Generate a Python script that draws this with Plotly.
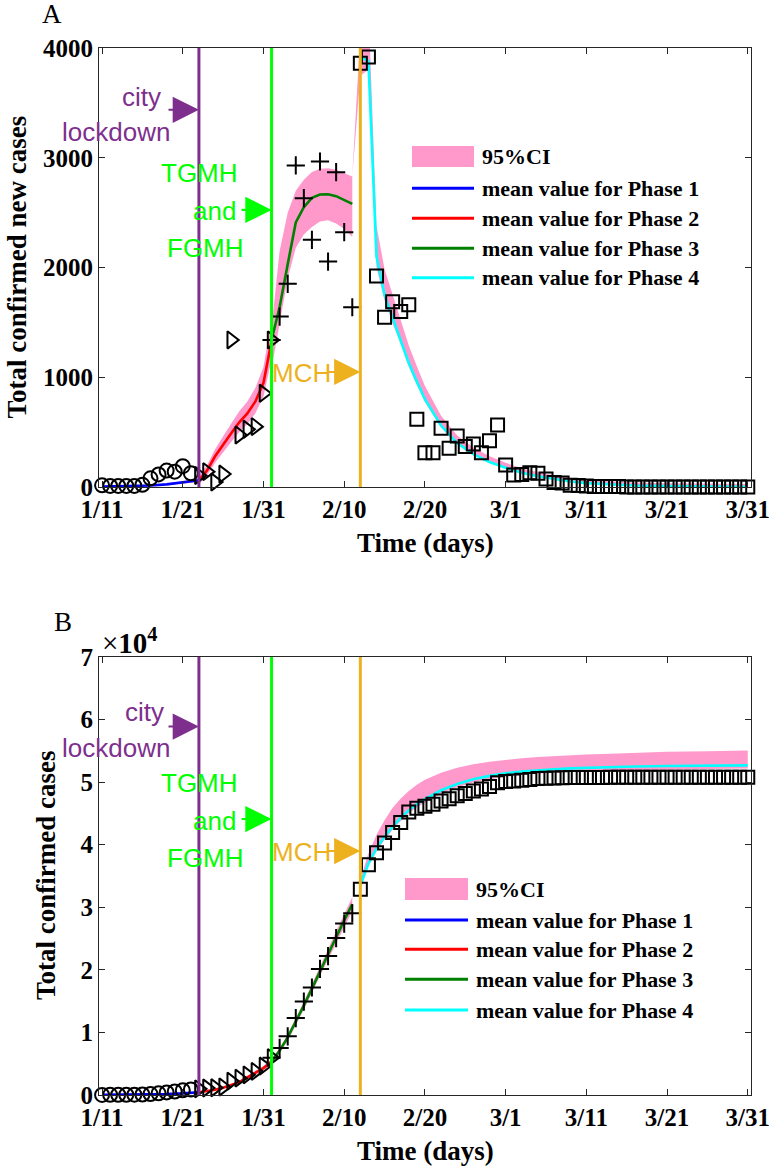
import plotly.graph_objects as go

# ---------------- data ----------------
tick_days = [0, 10, 20, 30, 40, 50, 60, 70, 80]
tick_dates = ['1/11', '1/21', '1/31', '2/10', '2/20', '3/1', '3/11', '3/21', '3/31']

# observed data (day index 0 = 1/11)
days_circ = list(range(0, 12))
days_tri = list(range(12, 22))
days_plus = list(range(21, 32))
days_sq = list(range(32, 81))

new_circ = [15, 10, 10, 10, 10, 20, 79, 115, 150, 140, 190, 125]
new_tri = [105, 140, 45, 118, 1340, 474, 526, 550, 854, 1340]
new_plus = [1340, 1553, 1851, 2930, 2632, 2252, 2966, 2054, 2869, 2322, 1638]
new_sq = [3862, 3917, 1923, 1547, 1687, 1598, 1660, 617, 313, 313, 535, 353, 465, 368,
          392, 313, 422, 565, 200, 109, 115, 130, 126, 74, 41, 36, 17, 13, 8, 5, 4, 4,
          4, 1, 1, 0, 0, 0, 0, 1, 0, 0, 0, 0, 1, 0, 0, 0, 0]

tot_circ = [15, 25, 35, 45, 55, 75, 154, 269, 419, 559, 749, 874]
tot_tri = [979, 1119, 1164, 1282, 2222, 2696, 3222, 3772, 4626, 5966]
tot_plus = [5966, 7519, 9370, 12300, 14932, 17184, 20150, 22204, 25073, 27395, 29033]
tot_sq = [32895, 36812, 38735, 40282, 41969, 43567, 45227, 45844, 46157, 46470, 47005,
          47358, 47823, 48191, 48583, 48896, 49318, 49883, 50083, 50192, 50307, 50437,
          50563, 50637, 50678, 50714, 50731, 50744, 50752, 50757, 50761, 50765, 50769,
          50770, 50771, 50771, 50771, 50771, 50771, 50772, 50772, 50772, 50772, 50772,
          50773, 50773, 50773, 50773, 50773]

# model curves, panel A (new cases)
dA1 = [0, 2, 4, 6, 8, 10, 12]
newA_mean1 = [3, 5, 8, 14, 24, 40, 62]
newA_lo1 = [1, 3, 5, 10, 18, 30, 45]
newA_hi1 = [5, 8, 12, 19, 31, 52, 80]

dA2 = list(range(12, 22))
newA_mean2 = [60, 150, 280, 390, 490, 590, 670, 780, 950, 1330]
newA_lo2 = [24, 105, 222, 321, 411, 501, 573, 672, 825, 1167]
newA_hi2 = [97, 198, 344, 467, 579, 691, 780, 904, 1094, 1520]

dA3 = list(range(21, 32))
newA_mean3 = [1340, 1640, 2030, 2410, 2550, 2635, 2665, 2668, 2650, 2615, 2580]
newA_lo3 = [1080, 1500, 1900, 2180, 2300, 2370, 2420, 2430, 2400, 2350, 2280]
newA_hi3 = [1450, 2150, 2500, 2700, 2800, 2870, 2900, 2905, 2890, 2860, 2830]

dA4_ci = [31, 32, 33, 34, 35, 36, 37, 38, 39, 40, 42, 44, 46, 48, 50, 52, 54, 56, 58, 60,
          63, 66, 70, 75, 80]
newA_lo4 = [2830, 3750, 3800, 2000, 1700, 1490, 1300, 1095, 930, 775, 543, 388, 291, 221,
            170, 126, 95, 70, 48, 34, 21, 13, 7, 3, 1]
newA_hi4 = [2830, 4150, 4400, 2380, 1985, 1750, 1525, 1290, 1100, 920, 650, 470, 360, 280,
            220, 170, 135, 105, 80, 64, 50, 40, 34, 30, 27]
dA4 = [32, 33, 34, 35, 36, 37, 38, 39, 40, 42, 44, 46, 48, 50, 52, 54, 56, 58, 60, 63,
       66, 70, 75, 80]
newA_mean4 = [3920, 3880, 2100, 1750, 1540, 1340, 1130, 960, 800, 560, 400, 300, 228, 175,
              130, 98, 72, 50, 35, 22, 14, 8, 4, 2]

# model curves, panel B (cumulative cases)
dB1 = [0, 2, 4, 6, 8, 10, 12]
totB_mean1 = [30, 40, 60, 90, 150, 260, 430]
totB_lo1 = [20, 30, 45, 70, 120, 210, 360]
totB_hi1 = [40, 50, 75, 110, 180, 310, 500]

dB2 = list(range(12, 22))
totB_mean2 = [430, 600, 850, 1150, 1550, 2050, 2800, 3550, 4300, 5300]
totB_lo2 = [350, 508, 740, 1020, 1392, 1857, 2554, 3252, 3949, 4879]
totB_hi2 = [510, 692, 960, 1281, 1709, 2244, 3046, 3849, 4651, 5721]

dB3 = list(range(21, 32))
totB_mean3 = [5300, 7100, 9200, 11700, 14300, 17000, 19800, 22500, 25200, 27900, 30500]
totB_lo3 = [4941, 6687, 8724, 11149, 13671, 16290, 19006, 21625, 24244, 26863, 29385]
totB_hi3 = [5659, 7513, 9676, 12251, 14929, 17710, 20594, 23375, 26156, 28937, 31615]

dB4 = [32, 33, 34, 35, 36, 37, 38, 39, 40, 42, 44, 46, 48, 50, 52, 54, 56, 58, 60, 63,
       66, 70, 75, 80]
totB_mean4 = [33500, 37000, 39400, 41300, 42900, 44300, 45500, 46500, 47300, 48700, 49700,
              50450, 51000, 51400, 51680, 51900, 52070, 52200, 52300, 52410, 52490, 52570,
              52630, 52680]
totB_lo4 = [33000, 36500, 38900, 40800, 42400, 43800, 45000, 46000, 46800, 48200, 49200,
            49950, 50500, 50900, 51180, 51400, 51570, 51700, 51800, 51910, 51990, 52070,
            52130, 52180]
totB_hi4 = [34500, 38600, 41600, 43900, 45900, 47400, 48600, 49600, 50400, 51500, 52300,
            52850, 53250, 53550, 53800, 54000, 54150, 54300, 54400, 54550, 54700, 54850,
            54950, 55050]

# event days
lockdown_day = 12
tgmh_day = 21
mch_day = 32

legend_labels = ['95%CI', 'mean value for Phase 1', 'mean value for Phase 2',
                 'mean value for Phase 3', 'mean value for Phase 4']

# ---------------- styles ----------------
PINK = '#FF99CC'
PHASE_COLORS = ['#0000FF', '#FF0000', '#008000', '#00FFFF']
PURPLE = '#7E2F8E'
GREEN = '#00FF00'
ORANGE = '#EDB120'
AXC = '#262626'
SERIF = 'Liberation Serif'
SANS = 'Liberation Sans'

W, H = 771, 1171
ML, MR, MT, MB = 99, 20, 48, 76
PW = W - ML - MR
PH = H - MT - MB
XR = [-0.38, 80.4]


def px(xp):
    return (xp - ML) / PW


def py(yp):
    return (H - MB - yp) / PH


def day_of_px(xp):
    return XR[0] + (xp - ML) * (XR[1] - XR[0]) / PW


fig = go.Figure()


def band(x, lo, hi, xa, ya):
    fig.add_trace(go.Scatter(x=list(x) + list(x)[::-1], y=list(hi) + list(lo)[::-1],
                             fill='toself', fillcolor=PINK, mode='lines',
                             line=dict(width=0, color=PINK), hoverinfo='skip',
                             showlegend=False, xaxis=xa, yaxis=ya))


def mean_line(x, y, color, xa, ya):
    fig.add_trace(go.Scatter(x=x, y=y, mode='lines', line=dict(color=color, width=2.6),
                             showlegend=False, xaxis=xa, yaxis=ya))


def marks(x, y, symbol, size, xa, ya):
    fig.add_trace(go.Scatter(x=x, y=y, mode='markers', cliponaxis=False,
                             marker=dict(symbol=symbol, size=size, color='black',
                                         line=dict(color='black', width=2)),
                             showlegend=False, xaxis=xa, yaxis=ya))


for xa, ya, bands, means, obs in [
    ('x', 'y',
     [(dA1, newA_lo1, newA_hi1), (dA2, newA_lo2, newA_hi2), (dA3, newA_lo3, newA_hi3),
      (dA4_ci, newA_lo4, newA_hi4)],
     [(dA1, newA_mean1), (dA2, newA_mean2), (dA3, newA_mean3), (dA4, newA_mean4)],
     [new_circ, new_tri, new_plus, new_sq]),
    ('x2', 'y2',
     [(dB1, totB_lo1, totB_hi1), (dB2, totB_lo2, totB_hi2), (dB3, totB_lo3, totB_hi3),
      (dB4, totB_lo4, totB_hi4)],
     [(dB1, totB_mean1), (dB2, totB_mean2), (dB3, totB_mean3), (dB4, totB_mean4)],
     [tot_circ, tot_tri, tot_plus, tot_sq]),
]:
    for b in bands:
        band(b[0], b[1], b[2], xa, ya)
    for (mx, my), c in zip(means, PHASE_COLORS):
        mean_line(mx, my, c, xa, ya)
    marks(days_circ, obs[0], 'circle-open', 14, xa, ya)
    marks(days_tri, obs[1], 'triangle-right-open', 15, xa, ya)
    marks(days_plus, obs[2], 'cross-thin-open', 13, xa, ya)
    marks(days_sq, obs[3], 'square-open', 13, xa, ya)

shapes = []
annotations = []

# event lines
for xref, yref in [('x', 'y domain'), ('x2', 'y2 domain')]:
    for d, c in [(lockdown_day, PURPLE), (tgmh_day, GREEN), (mch_day, ORANGE)]:
        shapes.append(dict(type='line', xref=xref, yref=yref, x0=d, x1=d, y0=0, y1=1,
                           line=dict(color=c, width=3), layer='above'))


def txt(x, y, s, color, xref, yref, size=26, family=SANS, xanchor='center', **kw):
    annotations.append(dict(x=x, y=y, xref=xref, yref=yref, text=s, showarrow=False,
                            xanchor=xanchor, yanchor='middle',
                            font=dict(family=family, size=size, color=color), **kw))


def arrow(x0, x1, y, color, xref, yref):
    annotations.append(dict(x=x1, y=y, ax=x0, ay=y, xref=xref, yref=yref, axref=xref,
                            ayref=yref, text='', showarrow=True, arrowhead=2,
                            arrowsize=2.5, arrowwidth=2.1, arrowcolor=color, standoff=0))


# annotations panel A (values in data units)
txt(day_of_px(141.7), 3558, 'city', PURPLE, 'x', 'y')
txt(day_of_px(116), 3239, 'lockdown', PURPLE, 'x', 'y')
arrow(day_of_px(167), lockdown_day, 3437, PURPLE, 'x', 'y')
txt(day_of_px(199), 2862, 'TGMH', GREEN, 'x', 'y')
txt(day_of_px(214), 2516, 'and', GREEN, 'x', 'y')
txt(day_of_px(205), 2179, 'FGMH', GREEN, 'x', 'y')
arrow(day_of_px(240), tgmh_day, 2525, GREEN, 'x', 'y')
txt(day_of_px(301), 1039, 'MCH', ORANGE, 'x', 'y')
arrow(day_of_px(327), mch_day, 1048, ORANGE, 'x', 'y')

# annotations panel B
txt(day_of_px(144), 61250, 'city', PURPLE, 'x2', 'y2')
txt(day_of_px(116), 55450, 'lockdown', PURPLE, 'x2', 'y2')
arrow(day_of_px(167), lockdown_day, 58890, PURPLE, 'x2', 'y2')
txt(day_of_px(199), 49920, 'TGMH', GREEN, 'x2', 'y2')
txt(day_of_px(214), 43830, 'and', GREEN, 'x2', 'y2')
txt(day_of_px(205), 37870, 'FGMH', GREEN, 'x2', 'y2')
arrow(day_of_px(240), tgmh_day, 44100, GREEN, 'x2', 'y2')
txt(day_of_px(301), 38860, 'MCH', ORANGE, 'x2', 'y2')
arrow(day_of_px(327), mch_day, 38990, ORANGE, 'x2', 'y2')

# manual legends
for (sx0, sx1, sy0, sy1, rows, tx, ty0) in [
    (412, 474, 146, 167, [188.3, 218.3, 248.3, 277.7], 480, 156.7),
    (405, 468, 878, 900, [920, 949.3, 979.3, 1010], 474, 889),
]:
    shapes.append(dict(type='rect', xref='paper', yref='paper', x0=px(sx0), x1=px(sx1),
                       y0=py(sy1), y1=py(sy0), fillcolor=PINK, line=dict(width=0)))
    txt(px(tx), py(ty0), '<b>' + legend_labels[0] + '</b>', 'black', 'paper', 'paper',
        size=22, family=SERIF, xanchor='left')
    for yy, c, lab in zip(rows, PHASE_COLORS, legend_labels[1:]):
        shapes.append(dict(type='line', xref='paper', yref='paper', x0=px(sx0),
                           x1=px(sx1), y0=py(yy), y1=py(yy), line=dict(color=c, width=3)))
        txt(px(tx), py(yy), '<b>' + lab + '</b>', 'black', 'paper', 'paper', size=22,
            family=SERIF, xanchor='left')

# axis titles, panel letters, exponent
txt(px(16), py(267.5), '<b>Total confirmed new cases</b>', 'black', 'paper', 'paper',
    size=27, family=SERIF, textangle=-90)
txt(px(46), py(876), '<b>Total confirmed cases</b>', 'black', 'paper', 'paper',
    size=27, family=SERIF, textangle=-90)
txt(px(425), py(543), '<b>Time (days)</b>', 'black', 'paper', 'paper', size=27,
    family=SERIF)
txt(px(425), py(1151), '<b>Time (days)</b>', 'black', 'paper', 'paper', size=27,
    family=SERIF)
txt(px(52), py(14), 'A', 'black', 'paper', 'paper', size=27, family=SERIF)
txt(px(63), py(622), 'B', 'black', 'paper', 'paper', size=27, family=SERIF)
txt(px(100), py(641), '×<b>10<sup>4</sup></b>', 'black', 'paper', 'paper', size=29,
    family=SERIF, xanchor='left')

axis_common = dict(showgrid=False, zeroline=False, showline=True, linecolor=AXC,
                   linewidth=1, mirror='ticks', ticks='inside', ticklen=6,
                   tickcolor=AXC, tickwidth=1, automargin=False,
                   tickfont=dict(family=SERIF, size=25, color='black', weight='bold'))

xcommon = dict(axis_common, range=XR, tickvals=tick_days, ticktext=tick_dates)

fig.update_layout(
    width=W, height=H,
    margin=dict(l=ML, r=MR, t=MT, b=MB, autoexpand=False),
    paper_bgcolor='white', plot_bgcolor='white',
    showlegend=False,
    xaxis=dict(xcommon, anchor='y', domain=[0, 1]),
    yaxis=dict(axis_common, anchor='x', domain=[py(487), 1], range=[0, 4000],
               tickvals=[0, 1000, 2000, 3000, 4000],
               ticktext=['0', '1000', '2000', '3000', '4000']),
    xaxis2=dict(xcommon, anchor='y2', domain=[0, 1]),
    yaxis2=dict(axis_common, anchor='x2', domain=[0, py(657)], range=[0, 70000],
                tickvals=[0, 10000, 20000, 30000, 40000, 50000, 60000, 70000],
                ticktext=['0', '1', '2', '3', '4', '5', '6', '7']),
    shapes=shapes,
    annotations=annotations,
)

fig.write_html('out.html',
               config={'displayModeBar': False},
               post_script="document.body.style.margin='0';"
                           "document.body.style.overflow='hidden';")
